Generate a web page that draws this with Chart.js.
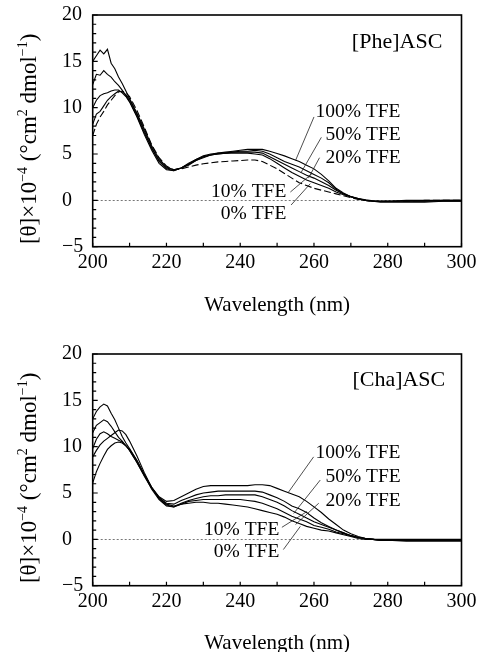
<!DOCTYPE html>
<html><head><meta charset="utf-8">
<script src="https://cdn.jsdelivr.net/npm/chart.js@4"></script>
<style>
html,body{margin:0;padding:0;background:#fff;overflow:hidden;width:484px;height:652px}
.w{position:absolute;left:0;width:484px}
canvas{display:block}
</style></head><body>
<div class="w" style="top:0;height:320px"><canvas id="c1" width="484" height="320"></canvas></div>
<div class="w" style="top:320px;height:340px"><canvas id="c2" width="484" height="340"></canvas></div>
<script>
// ---------- data ----------
const wavelengths = [200,201,202,203,204,205,206,207,208,209,210,
  212,214,216,218,220,222,224,226,228,230,
  232,234,236,238,240,242,244,246,248,250,
  252,254,256,258,260,262,264,266,268,270,
  272,274,276,278,280,285,290,295,300];
const seriesLabels = ['100% TFE','50% TFE','20% TFE','10% TFE','0% TFE'];

// [Phe]ASC
const phe100 = [15.0,15.6,16.2,15.8,16.3,14.8,14.2,13.3,12.6,11.8,11.0,
  9.4,7.7,5.9,4.5,3.6,3.3,3.5,3.9,4.3,4.6,
  4.9,5.1,5.2,5.3,5.4,5.5,5.5,5.5,5.3,5.05,
  4.8,4.5,4.2,3.8,3.4,2.8,2.1,1.3,0.8,0.4,
  0.15,0.0,-0.1,-0.1,-0.1,-0.1,-0.1,0.0,0.0];
const phe50 = [12.5,13.6,13.5,14.0,13.6,13.3,12.8,12.4,11.9,11.3,10.7,
  9.1,7.3,5.6,4.2,3.4,3.2,3.5,4.0,4.4,4.7,
  4.9,5.0,5.1,5.2,5.3,5.3,5.4,5.3,5.0,4.6,
  4.2,3.9,3.6,3.2,2.8,2.4,1.9,1.2,0.7,0.4,
  0.15,0.0,-0.1,-0.2,-0.2,-0.2,-0.2,-0.1,-0.1];
const phe20 = [10.0,10.8,11.3,11.5,11.6,11.8,11.9,11.9,11.6,11.2,10.6,
  9.0,7.1,5.4,4.0,3.3,3.2,3.5,3.9,4.4,4.8,
  5.0,5.1,5.1,5.2,5.2,5.2,5.2,5.1,4.7,4.3,
  3.9,3.5,3.1,2.7,2.4,2.0,1.6,1.1,0.7,0.4,
  0.2,0.0,-0.1,-0.1,-0.1,0.0,0.0,0.0,0.0];
const phe10 = [8.2,9.3,9.6,10.2,10.8,11.2,11.5,11.8,11.7,11.4,10.9,
  9.3,7.5,5.7,4.3,3.5,3.3,3.5,3.8,4.3,4.7,
  4.9,5.0,5.1,5.1,5.1,5.1,5.0,4.9,4.5,4.0,
  3.5,3.0,2.6,2.2,1.9,1.6,1.3,0.9,0.6,0.4,
  0.2,0.05,-0.05,-0.1,-0.1,-0.1,-0.1,-0.1,-0.1];
const phe0 = [7.0,8.2,9.0,9.6,10.3,10.8,11.3,11.7,11.8,11.6,11.2,
  9.7,7.9,6.0,4.6,3.7,3.3,3.4,3.6,3.8,3.95,
  4.05,4.15,4.2,4.25,4.3,4.35,4.35,4.2,3.8,3.4,
  2.9,2.4,1.9,1.6,1.3,1.1,0.9,0.7,0.5,0.3,
  0.1,0.0,-0.1,-0.1,-0.1,-0.1,0.0,0.0,0.0];

// [Cha]ASC
const cha100 = [13.0,13.8,14.3,14.6,14.4,13.6,12.9,12.0,11.1,10.4,9.8,
  8.5,7.0,5.6,4.6,4.1,4.2,4.6,5.0,5.4,5.7,
  5.8,5.8,5.8,5.8,5.8,5.8,5.9,5.9,5.8,5.5,
  5.2,4.9,4.6,4.1,3.5,2.9,2.2,1.6,1.0,0.6,
  0.3,0.1,0.0,-0.1,-0.1,-0.1,-0.1,-0.1,-0.1];
const cha50 = [11.5,12.3,12.6,12.9,12.7,12.2,11.6,11.0,10.6,10.1,9.6,
  8.3,6.8,5.5,4.5,3.9,3.8,4.2,4.5,4.8,5.0,
  5.1,5.2,5.2,5.2,5.2,5.2,5.2,5.1,4.8,4.5,
  4.1,3.6,3.3,2.9,2.3,1.8,1.4,1.0,0.7,0.4,
  0.2,0.1,0.0,-0.1,-0.1,-0.1,-0.1,-0.1,-0.1];
const cha20 = [9.8,10.8,11.4,11.6,11.4,11.1,10.9,10.7,10.5,10.1,9.6,
  8.3,6.9,5.4,4.3,3.6,3.5,3.9,4.2,4.4,4.6,
  4.7,4.7,4.8,4.8,4.8,4.8,4.8,4.6,4.3,4.0,
  3.6,3.1,2.7,2.3,1.9,1.6,1.3,1.0,0.7,0.4,
  0.2,0.1,0.0,0.0,0.0,0.0,0.0,0.0,0.0];
const cha10 = [8.9,9.6,10.2,10.6,10.9,11.2,11.5,11.8,11.7,11.3,10.6,
  9.0,7.2,5.6,4.4,3.7,3.5,3.8,4.1,4.2,4.3,
  4.3,4.3,4.3,4.3,4.3,4.2,4.1,3.9,3.6,3.3,
  2.9,2.5,2.2,1.9,1.5,1.3,1.1,0.8,0.6,0.4,
  0.2,0.1,0.0,-0.1,-0.1,-0.2,-0.2,-0.2,-0.2];
const cha0 = [6.1,7.3,8.2,9.0,9.7,10.1,10.4,10.5,10.4,10.1,9.7,
  8.5,7.0,5.6,4.5,3.8,3.6,3.8,3.9,4.0,4.0,
  3.9,3.9,3.8,3.7,3.6,3.5,3.3,3.1,2.9,2.7,
  2.4,2.0,1.7,1.4,1.2,1.0,0.9,0.7,0.5,0.3,
  0.1,0.0,0.0,-0.1,-0.1,-0.1,-0.1,-0.1,-0.1];

const xTickStep = 20, yTickStep = 5;
const xMin = 200, xMax = 300, yMin = -5, yMax = 20;

// annotation anchors (data units)
const pheTag = {text:'[Phe]ASC', at:[294.8,17.1]};
const chaTag = {text:'[Cha]ASC', at:[295.6,17.2]};
const pheLabelAt = [[260.4,9.5,'left'],[263.1,7.05,'left'],[263.1,4.57,'left'],[252.5,0.9,'right'],[252.5,-1.47,'right']];
const chaLabelAt = [[260.4,9.28,'left'],[263.1,6.75,'left'],[263.1,4.13,'left'],[250.6,1.0,'right'],[250.6,-1.4,'right']];
const pheLeaders = [[[260.0,9.0],[255.0,4.3]],[[262.0,6.8],[256.5,3.0]],[[261.5,4.6],[258.5,2.4]],[[253.6,0.9],[259.5,2.9]],[[253.8,-0.5],[259.0,1.8]]];
const chaLeaders = [[[259.9,8.9],[253.1,5.1]],[[261.7,6.4],[254.5,2.8]],[[261.3,3.9],[255.0,1.6]],[[251.3,1.3],[258.1,3.0]],[[251.7,-1.1],[256.3,1.4]]];

// ---------- drawing ----------
const FONT = '"Liberation Serif", "Times New Roman", serif';

function drawYTitle(ctx, bx, cy, size){
  const parts = [['[θ]×10',0],['−4',1],[' (°cm',0],['2',1],[' dmol',0],['−1',1],[')',0]];
  const sup = Math.round(size*0.62);
  let total = 0;
  const widths = parts.map(([t,s])=>{ctx.font = (s?sup:size)+'px '+FONT; const w=ctx.measureText(t).width; total+=w; return w;});
  ctx.save();
  ctx.translate(bx, cy);
  ctx.rotate(-Math.PI/2);
  ctx.fillStyle = '#000'; ctx.textAlign='left'; ctx.textBaseline='alphabetic';
  let x = -total/2;
  parts.forEach(([t,s],i)=>{
    ctx.font = (s?sup:size)+'px '+FONT;
    ctx.fillText(t, x, s ? -size*0.38 : 0);
    x += widths[i];
  });
  ctx.restore();
}

const decor = {
  id:'decor',
  beforeDatasetsDraw(chart){
    const {ctx, chartArea:a, scales:{x,y}} = chart;
    const y0 = y.getPixelForValue(0);
    ctx.save();
    ctx.strokeStyle = '#777'; ctx.lineWidth = 1; ctx.setLineDash([2,2]);
    ctx.beginPath(); ctx.moveTo(a.left, Math.round(y0)+0.5); ctx.lineTo(a.right, Math.round(y0)+0.5); ctx.stroke();
    ctx.restore();
  },
  afterDraw(chart, args, o){
    const {ctx, chartArea:a, scales:{x,y}} = chart;
    ctx.save();
    ctx.strokeStyle = '#000'; ctx.lineWidth = 1.6;
    ctx.strokeRect(a.left, a.top, a.right-a.left, a.bottom-a.top);
    ctx.lineWidth = 1.2;
    ctx.beginPath();
    for (let v=yMin; v<=yMax; v+=1){
      const p = y.getPixelForValue(v);
      const L = (v % 5 === 0) ? 5 : 3.5;
      ctx.moveTo(a.left, p); ctx.lineTo(a.left+L, p);
    }
    for (let v=xMin; v<=xMax; v+=10){
      const p = x.getPixelForValue(v);
      ctx.moveTo(p, a.bottom); ctx.lineTo(p, a.bottom-4);
    }
    ctx.stroke();
    // leaders
    ctx.lineWidth = 0.8; ctx.strokeStyle = '#222';
    ctx.beginPath();
    o.leaders.forEach(([p1,p2])=>{
      ctx.moveTo(x.getPixelForValue(p1[0]), y.getPixelForValue(p1[1]));
      ctx.lineTo(x.getPixelForValue(p2[0]), y.getPixelForValue(p2[1]));
    });
    ctx.stroke();
    // labels
    ctx.fillStyle = '#000'; ctx.textBaseline = 'middle';
    ctx.font = '19.5px '+FONT;
    o.labelAt.forEach((p,i)=>{
      ctx.textAlign = p[2];
      ctx.fillText(seriesLabels[i], x.getPixelForValue(p[0]), y.getPixelForValue(p[1]));
    });
    ctx.font = '22px '+FONT; ctx.textAlign='right';
    ctx.fillText(o.tag.text, x.getPixelForValue(o.tag.at[0]), y.getPixelForValue(o.tag.at[1]));
    // y title
    drawYTitle(ctx, 35.5, (a.top+a.bottom)/2 + 8, 23);
    ctx.restore();
  }
};

function makeChart(id, series, tag, labelAt, leaders, padTop, padBottom, xAxisH){
  const datasets = series.map((vals,i)=>({
    label: seriesLabels[i],
    data: wavelengths.map((w,j)=>({x:w, y:vals[j]})),
    borderColor:'#000', borderWidth:1.1, pointRadius:0, tension:0, fill:false,
    borderDash: (i===4 && id==='c1') ? [7,3] : []
  }));
  return new Chart(document.getElementById(id), {
    type:'line',
    data:{datasets},
    plugins:[decor],
    options:{
      responsive:false, animation:false, events:[],
      layout:{padding:{top:padTop, right:22.5, left:62, bottom:padBottom}},
      plugins:{legend:{display:false}, tooltip:{enabled:false}, decor:{tag, labelAt, leaders}},
      scales:{
        x:{type:'linear', min:xMin, max:xMax,
          grid:{display:false, drawTicks:false}, border:{display:false},
          ticks:{stepSize:xTickStep, color:'#000', font:{family:FONT, size:20}, padding:4, maxRotation:0, autoSkip:false},
          title:{display:true, text:'Wavelength (nm)', color:'#000', font:{family:FONT, size:21}, padding:0},
          afterFit(s){ s.height = xAxisH; }
        },
        y:{min:yMin, max:yMax,
          grid:{display:false, drawTicks:false}, border:{display:false},
          ticks:{stepSize:yTickStep, color:'#000', font:{family:FONT, size:20}, padding:3, crossAlign:'far',
            callback:v=>String(v).replace('-','−')},
          afterFit(s){ s.width = 30.7; }
        }
      }
    }
  });
}

makeChart('c1', [phe100,phe50,phe20,phe10,phe0], pheTag, pheLabelAt, pheLeaders, 15, 2.4, 70.9);
makeChart('c2', [cha100,cha50,cha20,cha10,cha0], chaTag, chaLabelAt, chaLeaders, 34, 4.4, 69.9);
</script>
</body></html>
